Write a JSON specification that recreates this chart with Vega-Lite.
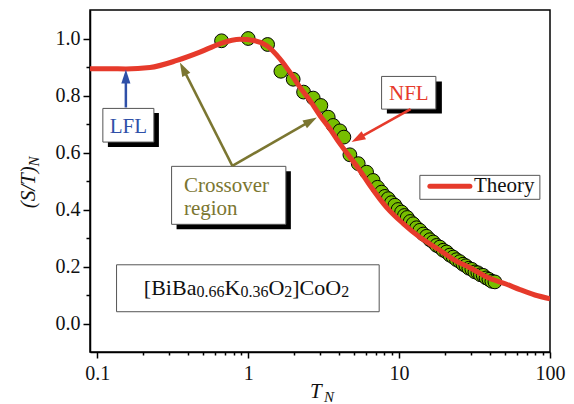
{
  "$schema": "https://vega.github.io/schema/vega-lite/v6.json",
  "width": 460,
  "height": 342,
  "autosize": {"type": "none"},
  "padding": {"left": 90, "top": 10, "right": 24, "bottom": 52},
  "background": "white",
  "config": {
    "view": {"stroke": "black", "strokeWidth": 1.5},
    "font": "Liberation Serif",
    "axis": {"domainColor": "black", "domainWidth": 1.5, "tickColor": "black", "tickWidth": 1.5, "labelFont": "Liberation Serif", "labelFontSize": 20, "labelColor": "#111111", "grid": false}
  },
  "resolve": {"axis": {"x": "independent", "y": "independent"}},
  "datasets": {
    "theory": [
      {"t": 0.0895, "s": 0.894}, {"t": 0.1212, "s": 0.894}, {"t": 0.1547, "s": 0.893}, {"t": 0.2233, "s": 0.898},
      {"t": 0.337, "s": 0.923}, {"t": 0.4786, "s": 0.952}, {"t": 0.6494, "s": 0.9815}, {"t": 0.881, "s": 0.997},
      {"t": 1.108, "s": 0.992}, {"t": 1.324, "s": 0.9755}, {"t": 1.622, "s": 0.929}, {"t": 1.889, "s": 0.882},
      {"t": 2.201, "s": 0.8294}, {"t": 2.564, "s": 0.7827}, {"t": 2.987, "s": 0.73}, {"t": 3.478, "s": 0.6835},
      {"t": 4.053, "s": 0.631}, {"t": 4.72, "s": 0.584}, {"t": 5.5, "s": 0.537}, {"t": 6.4, "s": 0.485},
      {"t": 8.26, "s": 0.4076}, {"t": 10.65, "s": 0.3505}, {"t": 13.73, "s": 0.3025}, {"t": 18.64, "s": 0.257},
      {"t": 22.83, "s": 0.2253}, {"t": 29.46, "s": 0.1955}, {"t": 38.0, "s": 0.1633}, {"t": 51.6, "s": 0.1377},
      {"t": 63.2, "s": 0.119}, {"t": 79.4, "s": 0.1}, {"t": 100, "s": 0.087}
    ],
    "exp": [
      {"t": 0.666, "s": 0.992}, {"t": 1.0, "s": 1.0}, {"t": 1.345, "s": 0.979}, {"t": 1.647, "s": 0.885},
      {"t": 1.987, "s": 0.857}, {"t": 2.329, "s": 0.812}, {"t": 2.697, "s": 0.791}, {"t": 3.032, "s": 0.765},
      {"t": 3.39, "s": 0.724}, {"t": 3.659, "s": 0.695}, {"t": 4.053, "s": 0.676}, {"t": 4.307, "s": 0.654},
      {"t": 4.72, "s": 0.592}, {"t": 5.36, "s": 0.561}, {"t": 6.09, "s": 0.531}, {"t": 6.73, "s": 0.502},
      {"t": 7.2, "s": 0.478}, {"t": 7.66, "s": 0.461}, {"t": 8.05, "s": 0.446}, {"t": 8.47, "s": 0.438},
      {"t": 8.9, "s": 0.424}, {"t": 9.38, "s": 0.415}, {"t": 9.85, "s": 0.4}, {"t": 10.39, "s": 0.391},
      {"t": 10.85, "s": 0.379}, {"t": 11.32, "s": 0.372}, {"t": 11.85, "s": 0.358}, {"t": 12.4, "s": 0.35},
      {"t": 13.05, "s": 0.336}, {"t": 13.73, "s": 0.327}, {"t": 14.45, "s": 0.314}, {"t": 15.21, "s": 0.306},
      {"t": 16.0, "s": 0.294}, {"t": 16.83, "s": 0.286}, {"t": 17.7, "s": 0.274}, {"t": 18.63, "s": 0.268},
      {"t": 19.6, "s": 0.257}, {"t": 20.64, "s": 0.251}, {"t": 21.7, "s": 0.24}, {"t": 22.83, "s": 0.233},
      {"t": 24.0, "s": 0.224}, {"t": 25.29, "s": 0.217}, {"t": 26.5, "s": 0.208}, {"t": 27.72, "s": 0.2025},
      {"t": 29.0, "s": 0.194}, {"t": 30.37, "s": 0.19}, {"t": 31.8, "s": 0.181}, {"t": 33.27, "s": 0.178},
      {"t": 34.6, "s": 0.171}, {"t": 36.07, "s": 0.169}, {"t": 37.7, "s": 0.16}, {"t": 39.37, "s": 0.155},
      {"t": 41.2, "s": 0.148}, {"t": 43.15, "s": 0.146}
    ],
    "shadows": [
      {"x": 0.1176, "x2": 0.2561, "y": 0.7389, "y2": 0.6197},
      {"x": 0.3353, "x2": 1.918, "y": 0.5338, "y2": 0.3305},
      {"x": 8.3, "x2": 19.21, "y": 0.8493, "y2": 0.7372}
    ],
    "boxes": [
      {"x": 0.1089, "x2": 0.2372, "y": 0.7547, "y2": 0.6366},
      {"x": 0.3108, "x2": 1.777, "y": 0.5514, "y2": 0.348},
      {"x": 7.656, "x2": 17.53, "y": 0.8669, "y2": 0.7522},
      {"x": 13.73, "x2": 85.7, "y": 0.5198, "y2": 0.4357},
      {"x": 0.1342, "x2": 7.38, "y": 0.206, "y2": 0.0413}
    ],
    "shafts": [
      {"x": 0.1547, "y": 0.758, "x2": 0.1547, "y2": 0.8669, "group": "LFL"},
      {"x": 0.7856, "y": 0.5531, "x2": 0.3704, "y2": 0.8942, "group": "Crossover"},
      {"x": 0.7856, "y": 0.5531, "x2": 2.599, "y2": 0.7109, "group": "Crossover"},
      {"x": 11.92, "y": 0.7522, "x2": 5.317, "y2": 0.6485, "group": "NFL"}
    ],
    "centerText": [
      {"text": "LFL", "x": 0.1607, "y": 0.668, "group": "LFL"},
      {"text": "NFL", "x": 11.61, "y": 0.7852, "group": "NFL"}
    ],
    "leftText": [
      {"text": "Crossover", "x": 0.375, "y": 0.4613, "group": "Crossover"},
      {"text": "region", "x": 0.375, "y": 0.3796, "group": "Crossover"},
      {"text": "Theory", "x": 31.31, "y": 0.4613, "group": "Black"}
    ],
    "formula": [
      {"text": "[BiBa", "x": 0.2036, "y": 0.1016},
      {"text": "K", "x": 0.6966, "y": 0.1016},
      {"text": "O", "x": 1.361, "y": 0.1016},
      {"text": "]CoO", "x": 1.96, "y": 0.1016}
    ],
    "subText": [
      {"text": "0.66", "x": 0.4544, "y": 0.0921},
      {"text": "0.36", "x": 0.8878, "y": 0.0921},
      {"text": "2", "x": 1.735, "y": 0.0921},
      {"text": "2", "x": 4.133, "y": 0.0921}
    ]
  },
  "layer": [
    {
      "data": {"name": "theory"},
      "mark": {"type": "line", "opacity": 0},
      "encoding": {
        "x": {"field": "t", "type": "quantitative", "scale": {"type": "log", "domain": [0.0895, 100], "nice": false},
          "axis": {"title": null, "orient": "bottom", "values": [0.1, 1, 10, 100], "format": "~g",
            "tickSize": 6, "labelPadding": 5, "labelOverlap": false, "labelFlush": false}},
        "y": {"field": "s", "type": "quantitative", "scale": {"domain": [-0.1, 1.1], "nice": false, "zero": false},
          "axis": {"title": null, "orient": "left", "values": [0, 0.2, 0.4, 0.6, 0.8, 1.0], "format": ".1f",
            "tickSize": 7, "labelPadding": 3, "labelOverlap": false, "labelFlush": false}}
      }
    },
    {
      "data": {"name": "shadows"},
      "mark": {"type": "rect", "fill": "black"},
      "encoding": {
        "x": {"field": "x", "type": "quantitative", "scale": {"type": "log", "domain": [0.0895, 100], "nice": false},
          "axis": {"title": null, "orient": "bottom", "values": [0.2, 0.3, 0.4, 0.5, 0.6, 0.7, 0.8, 0.9, 2, 3, 4, 5, 6, 7, 8, 9, 20, 30, 40, 50, 60, 70, 80, 90],
            "tickSize": 3, "labels": false, "domain": false}},
        "x2": {"field": "x2"},
        "y": {"field": "y", "type": "quantitative", "scale": {"domain": [-0.1, 1.1], "nice": false, "zero": false},
          "axis": {"title": null, "orient": "left", "values": [0.1, 0.3, 0.5, 0.7, 0.9], "tickSize": 4, "labels": false, "domain": false}},
        "y2": {"field": "y2"}
      }
    },
    {
      "data": {"name": "boxes"},
      "mark": {"type": "rect", "fill": "white", "stroke": "#555555", "strokeWidth": 1},
      "encoding": {
        "x": {"field": "x", "type": "quantitative", "scale": {"type": "log", "domain": [0.0895, 100], "nice": false}, "axis": null},
        "x2": {"field": "x2"},
        "y": {"field": "y", "type": "quantitative", "scale": {"domain": [-0.1, 1.1], "nice": false, "zero": false}, "axis": null},
        "y2": {"field": "y2"}
      }
    },
    {
      "data": {"name": "exp"},
      "mark": {"type": "point", "shape": "circle", "filled": true, "fill": "#77be00", "stroke": "black", "strokeWidth": 1, "opacity": 1, "size": 190},
      "encoding": {
        "x": {"field": "t", "type": "quantitative", "scale": {"type": "log", "domain": [0.0895, 100], "nice": false}, "axis": null},
        "y": {"field": "s", "type": "quantitative", "scale": {"domain": [-0.1, 1.1], "nice": false, "zero": false}, "axis": null}
      }
    },
    {
      "data": {"name": "theory"},
      "mark": {"type": "line", "color": "#e63a2b", "strokeWidth": 5, "interpolate": "monotone", "clip": true},
      "encoding": {
        "x": {"field": "t", "type": "quantitative", "scale": {"type": "log", "domain": [0.0895, 100], "nice": false}, "axis": null},
        "y": {"field": "s", "type": "quantitative", "scale": {"domain": [-0.1, 1.1], "nice": false, "zero": false}, "axis": null}
      }
    },
    {
      "data": {"values": [{"x": 16.0, "x2": 29.45, "y": 0.4812}]},
      "mark": {"type": "rule", "color": "#e63a2b", "strokeWidth": 5, "strokeCap": "round"},
      "encoding": {
        "x": {"field": "x", "type": "quantitative", "scale": {"type": "log", "domain": [0.0895, 100], "nice": false}, "axis": null},
        "x2": {"field": "x2"},
        "y": {"field": "y", "type": "quantitative", "scale": {"domain": [-0.1, 1.1], "nice": false, "zero": false}, "axis": null}
      }
    },
    {
      "data": {"name": "shafts"},
      "mark": {"type": "rule", "strokeWidth": 2.5},
      "encoding": {
        "x": {"field": "x", "type": "quantitative", "scale": {"type": "log", "domain": [0.0895, 100], "nice": false}, "axis": null},
        "x2": {"field": "x2"},
        "y": {"field": "y", "type": "quantitative", "scale": {"domain": [-0.1, 1.1], "nice": false, "zero": false}, "axis": null},
        "y2": {"field": "y2"},
        "color": {"field": "group", "type": "nominal", "legend": null,
          "scale": {"domain": ["LFL", "Crossover", "NFL", "Black"], "range": ["#2f50a8", "#7b7631", "#e63a2b", "#111111"]}}
      }
    },
    {
      "data": {"values": [{"x": 0.1547, "y": 0.8669}]},
      "mark": {"type": "point", "shape": "M0,-1L0.65,1L-0.65,1Z", "filled": true, "fill": "#2f50a8", "opacity": 1, "size": 196, "angle": 0},
      "encoding": {
        "x": {"field": "x", "type": "quantitative", "scale": {"type": "log", "domain": [0.0895, 100], "nice": false}, "axis": null},
        "y": {"field": "y", "type": "quantitative", "scale": {"domain": [-0.1, 1.1], "nice": false, "zero": false}, "axis": null}
      }
    },
    {
      "data": {"values": [{"x": 0.3704, "y": 0.8942}]},
      "mark": {"type": "point", "shape": "M0,-1L0.65,1L-0.65,1Z", "filled": true, "fill": "#7b7631", "opacity": 1, "size": 196, "angle": 332.8},
      "encoding": {
        "x": {"field": "x", "type": "quantitative", "scale": {"type": "log", "domain": [0.0895, 100], "nice": false}, "axis": null},
        "y": {"field": "y", "type": "quantitative", "scale": {"domain": [-0.1, 1.1], "nice": false, "zero": false}, "axis": null}
      }
    },
    {
      "data": {"values": [{"x": 2.599, "y": 0.7109}]},
      "mark": {"type": "point", "shape": "M0,-1L0.65,1L-0.65,1Z", "filled": true, "fill": "#7b7631", "opacity": 1, "size": 196, "angle": 60.2},
      "encoding": {
        "x": {"field": "x", "type": "quantitative", "scale": {"type": "log", "domain": [0.0895, 100], "nice": false}, "axis": null},
        "y": {"field": "y", "type": "quantitative", "scale": {"domain": [-0.1, 1.1], "nice": false, "zero": false}, "axis": null}
      }
    },
    {
      "data": {"values": [{"x": 5.317, "y": 0.6485}]},
      "mark": {"type": "point", "shape": "M0,-1L0.65,1L-0.65,1Z", "filled": true, "fill": "#e63a2b", "opacity": 1, "size": 196, "angle": 240.8},
      "encoding": {
        "x": {"field": "x", "type": "quantitative", "scale": {"type": "log", "domain": [0.0895, 100], "nice": false}, "axis": null},
        "y": {"field": "y", "type": "quantitative", "scale": {"domain": [-0.1, 1.1], "nice": false, "zero": false}, "axis": null}
      }
    },
    {
      "data": {"name": "centerText"},
      "mark": {"type": "text", "font": "Liberation Serif", "fontSize": 21, "align": "center", "baseline": "alphabetic"},
      "encoding": {
        "x": {"field": "x", "type": "quantitative", "scale": {"type": "log", "domain": [0.0895, 100], "nice": false}, "axis": null},
        "y": {"field": "y", "type": "quantitative", "scale": {"domain": [-0.1, 1.1], "nice": false, "zero": false}, "axis": null},
        "text": {"field": "text"},
        "color": {"field": "group", "type": "nominal", "legend": null,
          "scale": {"domain": ["LFL", "Crossover", "NFL", "Black"], "range": ["#2f50a8", "#7b7631", "#e63a2b", "#111111"]}}
      }
    },
    {
      "data": {"name": "leftText"},
      "mark": {"type": "text", "font": "Liberation Serif", "fontSize": 21, "align": "left", "baseline": "alphabetic"},
      "encoding": {
        "x": {"field": "x", "type": "quantitative", "scale": {"type": "log", "domain": [0.0895, 100], "nice": false}, "axis": null},
        "y": {"field": "y", "type": "quantitative", "scale": {"domain": [-0.1, 1.1], "nice": false, "zero": false}, "axis": null},
        "text": {"field": "text"},
        "color": {"field": "group", "type": "nominal", "legend": null,
          "scale": {"domain": ["LFL", "Crossover", "NFL", "Black"], "range": ["#2f50a8", "#7b7631", "#e63a2b", "#111111"]}}
      }
    },
    {
      "data": {"name": "formula"},
      "mark": {"type": "text", "font": "Liberation Serif", "fontSize": 22, "align": "left", "baseline": "alphabetic", "color": "#111111"},
      "encoding": {
        "x": {"field": "x", "type": "quantitative", "scale": {"type": "log", "domain": [0.0895, 100], "nice": false}, "axis": null},
        "y": {"field": "y", "type": "quantitative", "scale": {"domain": [-0.1, 1.1], "nice": false, "zero": false}, "axis": null},
        "text": {"field": "text"}
      }
    },
    {
      "data": {"name": "subText"},
      "mark": {"type": "text", "font": "Liberation Serif", "fontSize": 16, "align": "left", "baseline": "alphabetic", "color": "#111111"},
      "encoding": {
        "x": {"field": "x", "type": "quantitative", "scale": {"type": "log", "domain": [0.0895, 100], "nice": false}, "axis": null},
        "y": {"field": "y", "type": "quantitative", "scale": {"domain": [-0.1, 1.1], "nice": false, "zero": false}, "axis": null},
        "text": {"field": "text"}
      }
    },
    {
      "data": {"values": [{"text": "T", "x": 2.564, "y": -0.262}]},
      "mark": {"type": "text", "font": "Liberation Serif", "fontSize": 21, "fontStyle": "italic", "align": "left", "baseline": "alphabetic", "color": "#111111"},
      "encoding": {
        "x": {"field": "x", "type": "quantitative", "scale": {"type": "log", "domain": [0.0895, 100], "nice": false}, "axis": null},
        "y": {"field": "y", "type": "quantitative", "scale": {"domain": [-0.1, 1.1], "nice": false, "zero": false}, "axis": null},
        "text": {"field": "text"}
      }
    },
    {
      "data": {"values": [{"text": "N", "x": 3.175, "y": -0.276}]},
      "mark": {"type": "text", "font": "Liberation Serif", "fontSize": 15, "fontStyle": "italic", "align": "left", "baseline": "alphabetic", "color": "#111111"},
      "encoding": {
        "x": {"field": "x", "type": "quantitative", "scale": {"type": "log", "domain": [0.0895, 100], "nice": false}, "axis": null},
        "y": {"field": "y", "type": "quantitative", "scale": {"domain": [-0.1, 1.1], "nice": false, "zero": false}, "axis": null},
        "text": {"field": "text"}
      }
    },
    {
      "data": {"values": [{"text": "(S/T)", "x": 0.03859, "y": 0.404}]},
      "mark": {"type": "text", "font": "Liberation Serif", "fontSize": 21, "fontStyle": "italic", "align": "left", "baseline": "alphabetic", "angle": 270, "color": "#111111"},
      "encoding": {
        "x": {"field": "x", "type": "quantitative", "scale": {"type": "log", "domain": [0.0895, 100], "nice": false}, "axis": null},
        "y": {"field": "y", "type": "quantitative", "scale": {"domain": [-0.1, 1.1], "nice": false, "zero": false}, "axis": null},
        "text": {"field": "text"}
      }
    },
    {
      "data": {"values": [{"text": "N", "x": 0.04102, "y": 0.551}]},
      "mark": {"type": "text", "font": "Liberation Serif", "fontSize": 15, "fontStyle": "italic", "align": "left", "baseline": "alphabetic", "angle": 270, "color": "#111111"},
      "encoding": {
        "x": {"field": "x", "type": "quantitative", "scale": {"type": "log", "domain": [0.0895, 100], "nice": false}, "axis": null},
        "y": {"field": "y", "type": "quantitative", "scale": {"domain": [-0.1, 1.1], "nice": false, "zero": false}, "axis": null},
        "text": {"field": "text"}
      }
    }
  ]
}
